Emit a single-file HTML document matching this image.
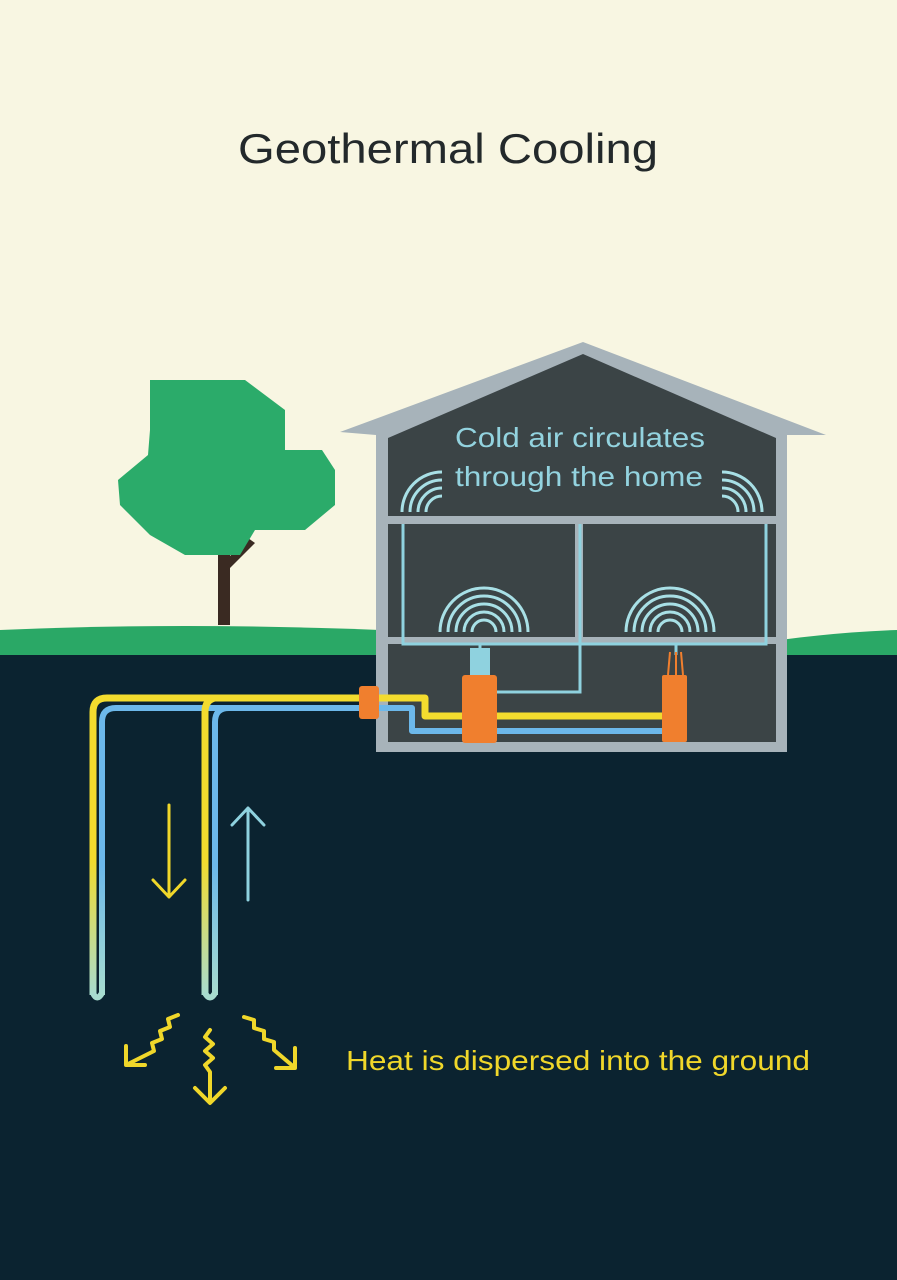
<!DOCTYPE html>
<html><head><meta charset="utf-8"><style>body{margin:0}svg{display:block}</style></head><body>
<svg width="897" height="1280" viewBox="0 0 897 1280" xmlns="http://www.w3.org/2000/svg">
<defs>
<linearGradient id="gy" x1="0" y1="0" x2="0" y2="1"><stop offset="0.55" stop-color="#f3dc2e"/><stop offset="1" stop-color="#a8dccf"/></linearGradient>
<linearGradient id="gb" x1="0" y1="0" x2="0" y2="1"><stop offset="0.55" stop-color="#6cb8ea"/><stop offset="1" stop-color="#a8dccf"/></linearGradient>
</defs>
<rect width="897" height="1280" fill="#f8f6e2"/>
<text x="238" y="163" textLength="420" lengthAdjust="spacingAndGlyphs" font-family="Liberation Sans, sans-serif" font-size="42" fill="#23292b">Geothermal Cooling</text>
<path d="M0 630 Q180 622 380 630 L380 660 L0 660Z" fill="#2aa866"/>
<path d="M780 640 Q840 632 897 630 L897 660 L780 660Z" fill="#2aa866"/>
<rect x="0" y="655" width="897" height="625" fill="#0b2330"/>
<path d="M218 625 L218 545 L230 545 L230 556 L248 538 L255 543 L230 568 L230 625Z" fill="#3a2a22"/>
<path d="M150 380 L245 380 L285 410 L285 450 L322 450 L335 470 L335 505 L305 530 L255 530 L240 555 L185 555 L150 535 L120 505 L118 480 L148 455 L150 430 Z" fill="#2bab6a"/>
<path d="M340 432 L583 342 L826 435 L787 435 L787 752 L376 752 L376 435Z" fill="#a7b3ba"/>
<path d="M388 438 L388 742 L776 742 L776 438 L583 354Z" fill="#3b4446"/>
<rect x="388" y="516" width="388" height="8" fill="#a7b3ba"/>
<rect x="388" y="637" width="388" height="7" fill="#a7b3ba"/>
<rect x="575" y="524" width="8" height="113" fill="#a7b3ba"/>
<text x="455" y="447" textLength="250" lengthAdjust="spacingAndGlyphs" font-family="Liberation Sans, sans-serif" font-size="28" fill="#93d3df">Cold air circulates</text>
<text x="455" y="486" textLength="248" lengthAdjust="spacingAndGlyphs" font-family="Liberation Sans, sans-serif" font-size="28" fill="#93d3df">through the home</text>
<g fill="none" stroke="#a8e0e6" stroke-width="3">
<path d="M402 512 A40 40 0 0 1 442 472"/><path d="M410 512 A32 32 0 0 1 442 480"/><path d="M418 512 A24 24 0 0 1 442 488" /><path d="M426 512 A16 16 0 0 1 442 496"/>
<path d="M762 512 A40 40 0 0 0 722 472"/><path d="M754 512 A32 32 0 0 0 722 480"/><path d="M746 512 A24 24 0 0 0 722 488"/><path d="M738 512 A16 16 0 0 0 722 496"/>
<path d="M440 632 A44 44 0 0 1 528 632"/><path d="M448 632 A36 36 0 0 1 520 632"/><path d="M456 632 A28 28 0 0 1 512 632"/><path d="M464 632 A20 20 0 0 1 504 632"/><path d="M472 632 A12 12 0 0 1 496 632"/>
<path d="M626 632 A44 44 0 0 1 714 632"/><path d="M634 632 A36 36 0 0 1 706 632"/><path d="M642 632 A28 28 0 0 1 698 632"/><path d="M650 632 A20 20 0 0 1 690 632"/><path d="M658 632 A12 12 0 0 1 682 632"/>
</g>
<g fill="none" stroke="#8fd2df" stroke-width="3">
<path d="M403 524 L403 644 L766 644 L766 524"/>
<path d="M580 524 L580 692 L492 692"/>
<path d="M480 644 L480 655"/><path d="M676 644 L676 655"/>
</g>
<rect x="470" y="648" width="20" height="28" fill="#8fd2df"/>
<g fill="none" stroke-linejoin="round">
<path d="M93 995 L93 712 Q93 698 107 698 L425 698 L425 716 L665 716" stroke="url(#gy)" stroke-width="7"/>
<path d="M102 995 L102 722 Q102 708 116 708 L412 708 L412 731 L665 731" stroke="url(#gb)" stroke-width="6"/>
<path d="M205 995 L205 712 Q205 700 215 698" stroke="url(#gy)" stroke-width="7"/>
<path d="M215 995 L215 722 Q215 708 229 708" stroke="url(#gb)" stroke-width="6"/>
<path d="M93 993 Q97 1002 102 993" stroke="#a8dccf" stroke-width="6"/>
<path d="M205 993 Q210 1002 215 993" stroke="#a8dccf" stroke-width="6"/>
</g>
<rect x="359" y="686" width="20" height="33" rx="3" fill="#f07f2e"/>
<rect x="462" y="675" width="35" height="68" rx="3" fill="#f07f2e"/>
<rect x="662" y="675" width="25" height="67" rx="2" fill="#f07f2e"/>
<path d="M668 675 L670 652 M676 675 L676 652 M683 675 L681 652" stroke="#f07f2e" stroke-width="2"/>
<g fill="none" stroke-width="3" stroke-linecap="round" stroke-linejoin="round">
<path d="M169 805 L169 897 M153 880 L169 897 L185 880" stroke="#f0d72a"/>
<path d="M248 900 L248 808 M232 825 L248 808 L264 825" stroke="#8fd2df"/>
<g stroke="#f0d72a" stroke-width="4">
<path d="M178 1015 l-10 4 l2 8 l-10 4 l2 8 l-10 4 l2 8 L128 1064"/><path d="M126 1046 L126 1065 L145 1065"/>
<path d="M210 1030 l-5 7 l8 7 l-8 7 l8 7 l-8 7 l5 7 L210 1102"/><path d="M195 1088 L210 1103 L225 1088"/>
<path d="M244 1017 l10 3 l0 8 l10 3 l0 8 l10 3 l0 8 L294 1067"/><path d="M295 1048 L295 1068 L276 1068"/>
</g>
</g>
<text x="346" y="1070" textLength="464" lengthAdjust="spacingAndGlyphs" font-family="Liberation Sans, sans-serif" font-size="28" fill="#f0d72a">Heat is dispersed into the ground</text>
</svg>
</body></html>
